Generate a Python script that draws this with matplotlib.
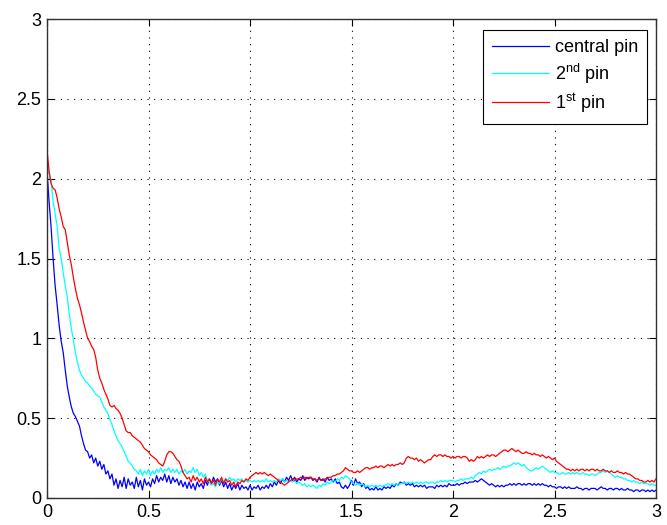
import numpy as np
import matplotlib
matplotlib.use("Agg")
import matplotlib.pyplot as plt

# sample positions (step 0.01 from 0 to 3)
t = np.linspace(0, 3, 301)

central_pin = [
    2.05, 1.86, 1.70, 1.50, 1.33, 1.21, 1.08, 0.98, 0.91, 0.80,
    0.70, 0.63, 0.57, 0.53, 0.51, 0.48, 0.45, 0.39, 0.34, 0.30,
    0.29, 0.25, 0.27, 0.22, 0.25, 0.20, 0.23, 0.18, 0.21, 0.15,
    0.17, 0.12, 0.15, 0.08, 0.12, 0.06, 0.11, 0.07, 0.13, 0.06,
    0.12, 0.08, 0.10, 0.06, 0.13, 0.07, 0.11, 0.05, 0.12, 0.08,
    0.10, 0.07, 0.12, 0.09, 0.14, 0.10, 0.13, 0.11, 0.15, 0.10,
    0.14, 0.09, 0.13, 0.10, 0.12, 0.08, 0.11, 0.07, 0.10, 0.06,
    0.10, 0.06, 0.09, 0.05, 0.10, 0.07, 0.09, 0.06, 0.11, 0.08,
    0.12, 0.09, 0.13, 0.10, 0.12, 0.08, 0.11, 0.07, 0.10, 0.06,
    0.09, 0.05, 0.08, 0.06, 0.09, 0.05, 0.08, 0.06, 0.07, 0.05,
    0.08, 0.05, 0.07, 0.06, 0.08, 0.05, 0.07, 0.06, 0.08, 0.06,
    0.09, 0.07, 0.10, 0.08, 0.11, 0.09, 0.12, 0.10, 0.13, 0.11,
    0.14, 0.11, 0.13, 0.10, 0.12, 0.11, 0.14, 0.11, 0.13, 0.12,
    0.13, 0.11, 0.12, 0.10, 0.13, 0.11, 0.12, 0.10, 0.13, 0.11,
    0.12, 0.10, 0.12, 0.09, 0.10, 0.07, 0.06, 0.08, 0.06, 0.08,
    0.11, 0.08, 0.12, 0.09, 0.10, 0.07, 0.09, 0.06, 0.07, 0.05,
    0.06, 0.05, 0.07, 0.05, 0.06, 0.05, 0.07, 0.06, 0.07, 0.06,
    0.08, 0.07, 0.09, 0.08, 0.10, 0.09, 0.10, 0.08, 0.09, 0.08,
    0.09, 0.07, 0.08, 0.07, 0.08, 0.07, 0.08, 0.06, 0.07, 0.07,
    0.07, 0.06, 0.08, 0.07, 0.08, 0.07, 0.08, 0.07, 0.09, 0.08,
    0.08, 0.08, 0.09, 0.08, 0.09, 0.09, 0.10, 0.09, 0.10, 0.10,
    0.10, 0.11, 0.10, 0.11, 0.12, 0.11, 0.10, 0.09, 0.08, 0.09,
    0.08, 0.07, 0.08, 0.07, 0.08, 0.07, 0.08, 0.08, 0.09, 0.08,
    0.09, 0.08, 0.09, 0.09, 0.08, 0.09, 0.08, 0.09, 0.09, 0.08,
    0.09, 0.08, 0.09, 0.08, 0.09, 0.08, 0.08, 0.07, 0.08, 0.07,
    0.07, 0.06, 0.07, 0.07, 0.06, 0.07, 0.06, 0.07, 0.06, 0.06,
    0.06, 0.07, 0.06, 0.06, 0.05, 0.06, 0.06, 0.05, 0.06, 0.06,
    0.06, 0.05, 0.06, 0.07, 0.06, 0.06, 0.05, 0.06, 0.06, 0.05,
    0.06, 0.06, 0.05, 0.06, 0.05, 0.05, 0.06, 0.05, 0.05, 0.04,
    0.05, 0.05, 0.04, 0.05, 0.05, 0.04, 0.05, 0.04, 0.05, 0.04,
    0.05,
]

second_pin = [
    2.08, 2.03, 1.99, 1.86, 1.78, 1.70, 1.56, 1.50, 1.41, 1.33,
    1.26, 1.15, 1.06, 0.99, 0.91, 0.85, 0.80, 0.77, 0.75, 0.73,
    0.72, 0.70, 0.69, 0.67, 0.65, 0.64, 0.63, 0.60, 0.57, 0.55,
    0.53, 0.49, 0.46, 0.42, 0.39, 0.36, 0.34, 0.32, 0.29, 0.26,
    0.23, 0.22, 0.20, 0.18, 0.17, 0.15, 0.18, 0.14, 0.17, 0.15,
    0.18, 0.14, 0.17, 0.15, 0.18, 0.16, 0.19, 0.16, 0.18, 0.17,
    0.19, 0.16, 0.18, 0.16, 0.18, 0.15, 0.17, 0.16, 0.18, 0.15,
    0.17, 0.16, 0.19, 0.16, 0.18, 0.14, 0.16, 0.13, 0.15, 0.11,
    0.10, 0.08, 0.09, 0.07, 0.10, 0.09, 0.12, 0.10, 0.12, 0.11,
    0.13, 0.11, 0.12, 0.10, 0.12, 0.11, 0.12, 0.10, 0.11, 0.10,
    0.11, 0.10, 0.11, 0.10, 0.11, 0.10, 0.11, 0.10, 0.12, 0.10,
    0.11, 0.10, 0.11, 0.10, 0.12, 0.11, 0.12, 0.10, 0.11, 0.10,
    0.11, 0.10, 0.11, 0.09, 0.10, 0.09, 0.08, 0.09, 0.07, 0.08,
    0.07, 0.08, 0.07, 0.06, 0.08, 0.07, 0.09, 0.08, 0.10, 0.09,
    0.10, 0.11, 0.10, 0.12, 0.11, 0.13, 0.12, 0.14, 0.13, 0.12,
    0.10, 0.09, 0.08, 0.09, 0.08, 0.09, 0.08, 0.07, 0.08, 0.07,
    0.08, 0.07, 0.08, 0.07, 0.08, 0.07, 0.08, 0.08, 0.09, 0.08,
    0.09, 0.08, 0.09, 0.08, 0.09, 0.09, 0.10, 0.09, 0.10, 0.09,
    0.10, 0.09, 0.10, 0.09, 0.10, 0.09, 0.10, 0.10, 0.09, 0.10,
    0.10, 0.09, 0.10, 0.10, 0.11, 0.10, 0.11, 0.10, 0.11, 0.11,
    0.11, 0.10, 0.11, 0.11, 0.12, 0.11, 0.12, 0.12, 0.12, 0.13,
    0.12, 0.14, 0.15, 0.16, 0.15, 0.17, 0.16, 0.17, 0.18, 0.17,
    0.18, 0.18, 0.19, 0.18, 0.19, 0.20, 0.19, 0.20, 0.20, 0.21,
    0.22, 0.21, 0.22, 0.21, 0.20, 0.21, 0.19, 0.18, 0.17, 0.17,
    0.18, 0.19, 0.18, 0.19, 0.20, 0.19, 0.18, 0.17, 0.16, 0.17,
    0.16, 0.16, 0.15, 0.15, 0.16, 0.15, 0.15, 0.16, 0.15, 0.16,
    0.15, 0.16, 0.15, 0.15, 0.16, 0.15, 0.15, 0.14, 0.15, 0.15,
    0.14, 0.15, 0.16, 0.16, 0.17, 0.16, 0.17, 0.16, 0.15, 0.14,
    0.13, 0.14, 0.13, 0.13, 0.12, 0.12, 0.11, 0.11, 0.10, 0.11,
    0.10, 0.10, 0.09, 0.10, 0.09, 0.09, 0.09, 0.08, 0.09, 0.08,
    0.08,
]

first_pin = [
    2.18, 2.05, 1.97, 1.94, 1.93, 1.88, 1.81, 1.76, 1.70, 1.68,
    1.60, 1.52, 1.46, 1.38, 1.31, 1.25, 1.21, 1.16, 1.10, 1.05,
    1.00, 0.98, 0.95, 0.93, 0.88, 0.80, 0.75, 0.72, 0.68, 0.65,
    0.62, 0.58, 0.57, 0.58, 0.56, 0.55, 0.53, 0.50, 0.46, 0.42,
    0.41, 0.41, 0.39, 0.38, 0.37, 0.36, 0.35, 0.33, 0.31, 0.30,
    0.29, 0.27, 0.26, 0.25, 0.24, 0.22, 0.21, 0.20, 0.23, 0.27,
    0.29, 0.29, 0.28, 0.26, 0.24, 0.23, 0.20, 0.16, 0.14, 0.12,
    0.13, 0.10, 0.14, 0.11, 0.13, 0.10, 0.12, 0.09, 0.13, 0.10,
    0.12, 0.09, 0.11, 0.08, 0.12, 0.10, 0.13, 0.09, 0.12, 0.10,
    0.11, 0.08, 0.10, 0.07, 0.10, 0.09, 0.11, 0.10, 0.12, 0.11,
    0.13, 0.14, 0.15, 0.16, 0.15, 0.16, 0.15, 0.16, 0.15, 0.14,
    0.15, 0.14, 0.13, 0.12, 0.11, 0.10, 0.09, 0.08, 0.09, 0.10,
    0.11, 0.12, 0.11, 0.12, 0.12, 0.13, 0.12, 0.13, 0.12, 0.13,
    0.13, 0.12, 0.12, 0.11, 0.12, 0.11, 0.11, 0.12, 0.12, 0.13,
    0.13, 0.14, 0.14, 0.15, 0.15, 0.16, 0.17, 0.19, 0.18, 0.17,
    0.17, 0.16, 0.16, 0.17, 0.16, 0.17, 0.18, 0.19, 0.19, 0.18,
    0.19, 0.19, 0.20, 0.19, 0.20, 0.20, 0.19, 0.20, 0.21, 0.20,
    0.21, 0.20, 0.21, 0.21, 0.22, 0.21, 0.22, 0.25, 0.26, 0.25,
    0.25, 0.24, 0.25, 0.23, 0.24, 0.23, 0.22, 0.23, 0.24, 0.24,
    0.26, 0.27, 0.26, 0.27, 0.27, 0.26, 0.27, 0.26, 0.26, 0.25,
    0.26, 0.25, 0.26, 0.26, 0.25, 0.26, 0.26, 0.25, 0.23, 0.24,
    0.23, 0.24, 0.26, 0.25, 0.26, 0.25, 0.26, 0.27, 0.26, 0.27,
    0.27, 0.26, 0.27, 0.28, 0.29, 0.30, 0.30, 0.29, 0.30, 0.31,
    0.30, 0.29, 0.30, 0.29, 0.28, 0.28, 0.29, 0.28, 0.28, 0.27,
    0.28, 0.27, 0.27, 0.26, 0.27, 0.26, 0.25, 0.26, 0.25, 0.24,
    0.25, 0.23, 0.22, 0.21, 0.20, 0.19, 0.18, 0.18, 0.17, 0.18,
    0.17, 0.18, 0.17, 0.18, 0.18, 0.17, 0.18, 0.17, 0.18, 0.18,
    0.17, 0.18, 0.17, 0.17, 0.18, 0.17, 0.17, 0.16, 0.17, 0.16,
    0.16, 0.17, 0.16, 0.16, 0.15, 0.16, 0.15, 0.15, 0.14, 0.13,
    0.12, 0.12, 0.11, 0.11, 0.10, 0.10, 0.11, 0.10, 0.11, 0.10,
    0.12,
]

labels = ["central pin", r"2$^{\mathrm{nd}}$ pin", r"1$^{\mathrm{st}}$ pin"]
colors = ["#0000ff", "#00ffff", "#ff0000"]
xticks = [0, 0.5, 1, 1.5, 2, 2.5, 3]
yticks = [0, 0.5, 1, 1.5, 2, 2.5, 3]

plt.rcParams["font.family"] = ["Liberation Sans", "DejaVu Sans"]
plt.rcParams["mathtext.fontset"] = "custom"
plt.rcParams["mathtext.rm"] = "Liberation Sans"

fig = plt.figure(figsize=(6.67, 5.25), dpi=100)
ax = fig.add_axes([47/667, 27/525, 609/667, 479/525])

for ys, lab, c in zip([central_pin, second_pin, first_pin], labels, colors):
    ax.plot(t, ys, color=c, lw=0.9, label=lab)

ax.set_xlim(0, 3); ax.set_ylim(0, 3)
ax.set_xticks(xticks); ax.set_yticks(yticks)
ax.set_xticklabels([f"{v:g}" for v in xticks]); ax.set_yticklabels([f"{v:g}" for v in yticks])
ax.grid(True, color="k", linestyle=(0, (1, 5)), linewidth=0.8)
ax.tick_params(direction="in", length=5, width=0.8, top=True, right=True,
               labelsize=13, colors="k", pad=4)
for s in ax.spines.values():
    s.set_linewidth(1.0); s.set_color("#333333")

leg = ax.legend(loc="upper right", bbox_to_anchor=(600/609, 468/479), borderaxespad=0,
                fancybox=False, framealpha=1, edgecolor="k", fontsize=13,
                handlelength=3.2, handletextpad=0.3, labelspacing=0.3, borderpad=0.5)
leg.get_frame().set_linewidth(0.8)

fig.savefig("out.png", dpi=100)
